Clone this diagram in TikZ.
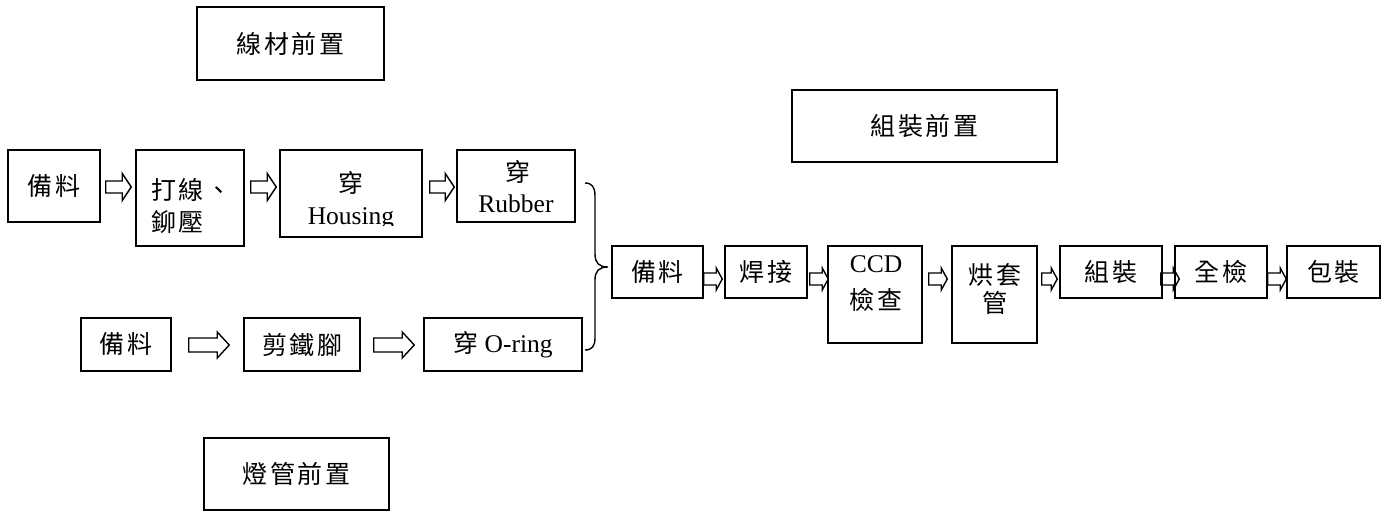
\documentclass[tikz,border=0pt]{standalone}
\usepackage{fontspec}
\setmainfont{Liberation Serif}
\newfontfamily\cjk{Noto Sans CJK TC}[LetterSpace=10]
\usetikzlibrary{calc}
\newcommand\lat{\rmfamily\fontsize{25.5pt}{30pt}\selectfont}
\newcommand\cjkf{\cjk\fontsize{25pt}{32pt}\selectfont}
\newcommand\hollowarr[8]{%
  \path[harr] let \p1=(#1.east), \p2=(#2.west) in
    (\x1+#4pt,-#3pt-#6pt) -- (\x2+#5pt-#8pt,-#3pt-#6pt) -- (\x2+#5pt-#8pt,-#3pt-#7pt)
    -- (\x2+#5pt,-#3pt) -- (\x2+#5pt-#8pt,-#3pt+#7pt) -- (\x2+#5pt-#8pt,-#3pt+#6pt)
    -- (\x1+#4pt,-#3pt+#6pt) -- cycle;}
\begin{document}
\begin{tikzpicture}[x=1pt,y=-1pt,
  box/.style={draw, line width=1.5pt, inner sep=0pt, font=\cjkf},
  txt/.style={inner sep=0pt, align=center, font=\cjkf},
  harr/.style={draw, line width=1.4pt, line join=miter},
  brace/.style={draw, line width=1.4pt}]
\useasboundingbox (0,0) rectangle (1390,511);
\fill[white] (0,0) rectangle (1390,511);

% headers
\node[box, minimum width=187pt, minimum height=73pt] (h1) at (290.5,43.5) {線材前置};
\node[box, minimum width=265pt, minimum height=72pt] (h2) at (924.5,126) {組裝前置};
\node[box, minimum width=185pt, minimum height=72pt] (h3) at (296.5,474) {燈管前置};

% top row
\node[box, minimum width=92pt, minimum height=72pt] (t1) at (54,186) {備料};
\node[box, minimum width=108pt, minimum height=96pt] (t2) at (190,198) {};
\node[txt, align=left] (t2x) at (191,206) {打線、\\鉚壓};
\node[box, minimum width=142pt, minimum height=87pt] (t3) at (351,193.5) {};
\node[txt] (t3a) at (351,183) {穿};
\begin{scope}
  \clip (t3.north west) rectangle (t3.east |- 0,225);
  \node[txt, anchor=base, font=\lat] (t3b) at (351,224) {Housing};
\end{scope}
\node[box, minimum width=118pt, minimum height=72pt] (t4) at (516,186) {};
\node[txt] (t4a) at (518,172) {穿};
\node[txt, anchor=base, font=\lat] (t4b) at (516,212) {Rubber};

% bottom row
\node[box, minimum width=90pt, minimum height=53pt] (b1) at (126,344.5) {備料};
\node[box, minimum width=116pt, minimum height=53pt] (b2) at (302,344.5) {剪鐵腳};
\node[box, minimum width=158pt, minimum height=53pt] (b3) at (503,344.5) {穿{\lat\ O-ring}};

% right row
\node[box, minimum width=91pt, minimum height=52pt] (r1) at (657.5,272) {\raisebox{-3pt}{備料}};
\node[box, minimum width=82pt, minimum height=52pt] (r2) at (766,272) {焊接};
\node[box, minimum width=94pt, minimum height=97pt] (r3) at (875,294.5) {};
\node[txt, anchor=base, font=\lat] (r3a) at (876,272) {CCD};
\node[txt] (r3b) at (876,300) {檢查};
\node[box, minimum width=85pt, minimum height=97pt] (r4) at (994.5,294.5) {};
\node[txt, font=\cjk\fontsize{25pt}{28pt}\selectfont] (r4a) at (995,289) {烘套\\管};
\node[box, minimum width=102pt, minimum height=52pt] (r5) at (1111,272) {組裝};
\node[box, minimum width=92pt, minimum height=52pt] (r6) at (1221,272) {全檢};
\node[box, minimum width=93pt, minimum height=52pt] (r7) at (1333.5,272) {包裝};

% hollow arrows
\hollowarr{t1}{t2}{187}{5}{-4}{6}{13.5}{9}
\hollowarr{t2}{t3}{187}{6}{-3}{6}{13.5}{9}
\hollowarr{t3}{t4}{187}{7}{-2}{6}{13.5}{9}
\hollowarr{b1}{b2}{345}{17}{-14}{7}{13}{12}
\hollowarr{b2}{b3}{345}{13}{-9}{7}{13}{12}
\hollowarr{r1}{r2}{279}{0}{-2}{6}{11}{6}
\hollowarr{r2}{r3}{279}{2}{1}{6}{11}{6}
\hollowarr{r3}{r4}{279}{6}{-4}{6}{11}{6}
\hollowarr{r4}{r5}{279}{4}{-2}{6}{11}{6}
\hollowarr{r5}{r6}{279}{-2}{5}{6}{11}{6}
\hollowarr{r6}{r7}{279}{0}{0}{6}{11}{6}

% brace
\draw[brace] (585,183) .. controls (592,183) and (595,187) .. (595,196)
  -- (595,254) .. controls (595,263) and (599,267) .. (608,267)
  .. controls (599,267) and (595,271) .. (595,280)
  -- (595,338) .. controls (595,346) and (592,350) .. (585,350);
\end{tikzpicture}
\end{document}
